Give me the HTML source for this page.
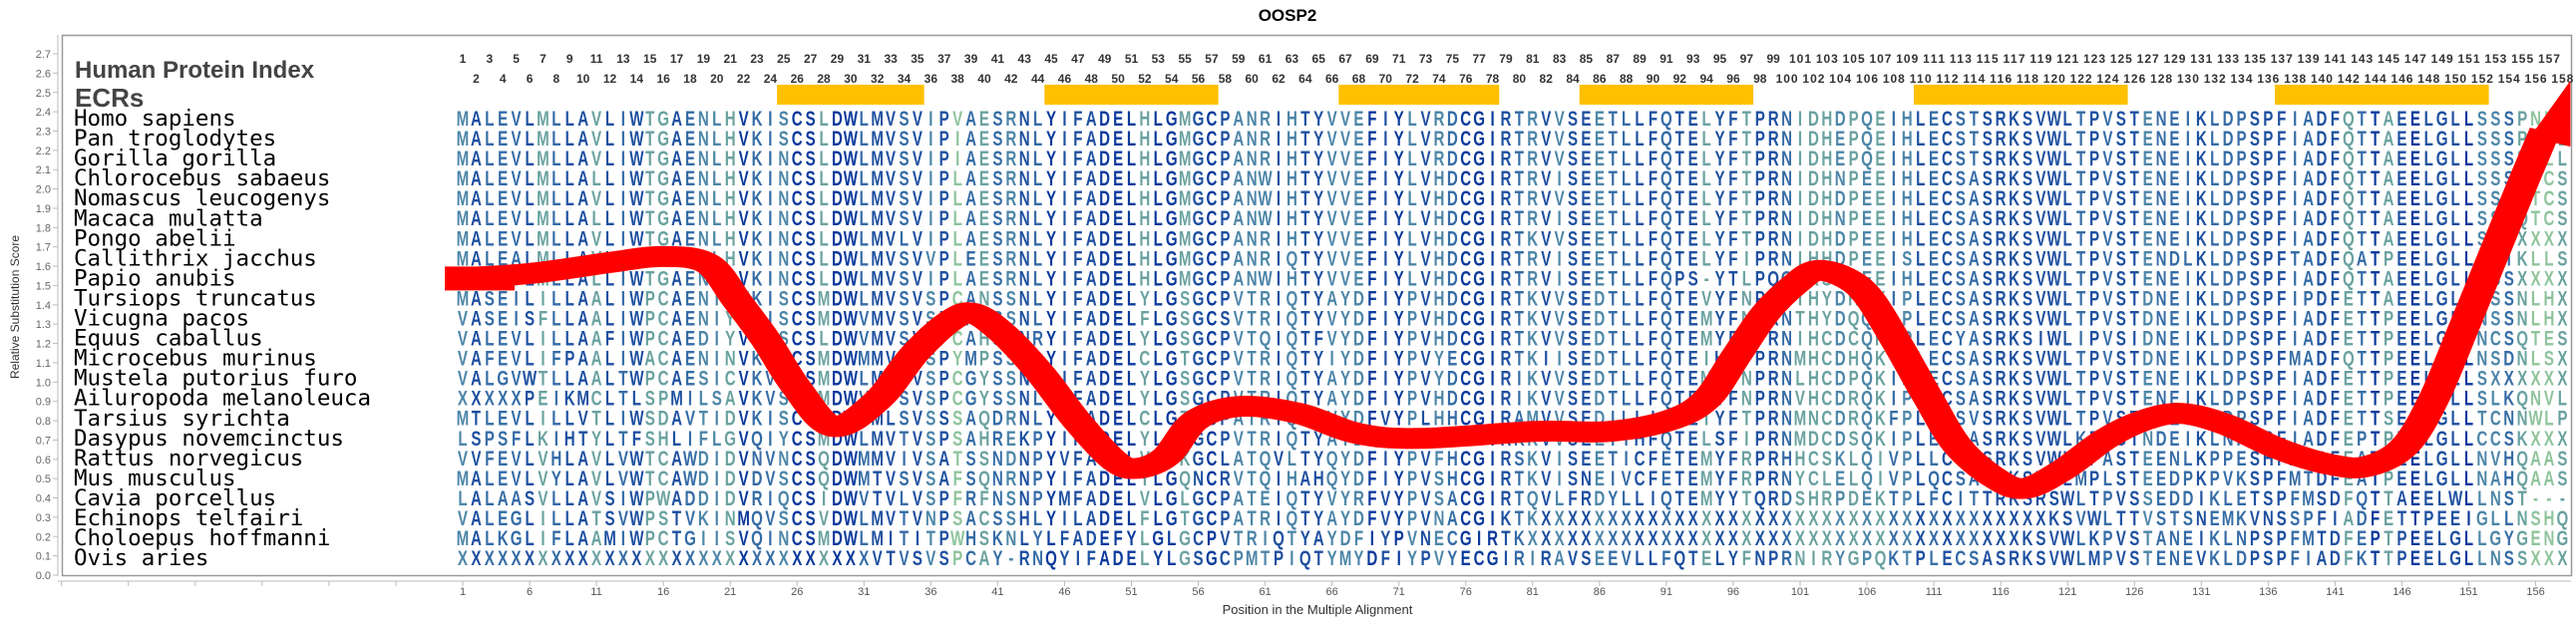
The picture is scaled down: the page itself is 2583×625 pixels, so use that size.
<!DOCTYPE html>
<html><head><meta charset="utf-8"><style>
html,body{margin:0;padding:0;background:#fff;}
svg{display:block;}
</style></head><body>
<svg id="s" xmlns="http://www.w3.org/2000/svg" width="2583" height="625" viewBox="0 0 2583 625">
<rect x="0" y="0" width="2583" height="625" fill="#fff"/>
<text x="1291" y="21" text-anchor="middle" font-family="Liberation Sans, sans-serif" font-weight="bold" font-size="17" fill="#000">OOSP2</text>
<rect x="62.5" y="35.5" width="2516" height="542" fill="none" stroke="#999" stroke-width="1.5"/>
<line x1="58" y1="35" x2="58" y2="578" stroke="#bbb" stroke-width="1"/>
<line x1="58" y1="583" x2="2578" y2="583" stroke="#bbb" stroke-width="1"/>
<text transform="translate(19,308) rotate(-90)" text-anchor="middle" font-family="Liberation Sans, sans-serif" font-size="12" fill="#333">Relative Substitution Score</text>
<text x="1321" y="616" text-anchor="middle" font-family="Liberation Sans, sans-serif" font-size="13" fill="#333">Position in the Multiple Alignment</text>
<text x="75" y="78" font-family="Liberation Sans, sans-serif" font-weight="bold" font-size="24" fill="#444">Human Protein Index</text>
<text x="75" y="107" font-family="Liberation Sans, sans-serif" font-weight="bold" font-size="26" fill="#444">ECRs</text>
<g id="g"></g>
</svg>
<script>
(function(){
var NS="http://www.w3.org/2000/svg",g=document.getElementById("g");
function el(t,a,txt){var e=document.createElementNS(NS,t);for(var k in a)e.setAttribute(k,a[k]);if(txt!=null)e.textContent=txt;g.appendChild(e);return e;}
var X0=464,DX=13.41;function cx(c){return X0+(c-1)*DX;}
function ry(r){return 119+r*20.05;}
for(var i=0;i<=27;i++){var y=577-i*19.37;
 el("text",{x:51,y:y+4,"text-anchor":"end","font-family":"Liberation Sans, sans-serif","font-size":"11",fill:"#666"},(i/10).toFixed(1));
 el("line",{x1:53,y1:y,x2:58,y2:y,stroke:"#bbb"});}
for(var k=-6;k<=31;k++){var x=cx(1)+k*5*DX;if(x<60||x>2578)continue;
 el("line",{x1:x,y1:583,x2:x,y2:588,stroke:"#bbb"});
 if(k>=0) el("text",{x:x,y:597,"text-anchor":"middle","font-family":"Liberation Sans, sans-serif","font-size":"11",fill:"#555"},String(1+k*5));}
[[25,35],[45,57],[67,78],[85,97],[110,125],[137,152]].forEach(function(b){
 el("rect",{x:cx(b[0])-DX/2,y:85,width:(b[1]-b[0]+1)*DX,height:20,fill:"#FFC000"});});
for(var c=1;c<=158;c++){var odd=c%2==1;
 var t=el("text",{x:cx(c),y:odd?63:83,"text-anchor":"middle","font-family":"Liberation Sans, sans-serif","font-weight":"bold","font-size":"12",fill:"#333"},String(c));
 if(c>=100)t.setAttribute("textLength","22");}
var names=["Homo sapiens","Pan troglodytes","Gorilla gorilla","Chlorocebus sabaeus","Nomascus leucogenys","Macaca mulatta","Pongo abelii","Callithrix jacchus","Papio anubis","Tursiops truncatus","Vicugna pacos","Equus caballus","Microcebus murinus","Mustela putorius furo","Ailuropoda melanoleuca","Tarsius syrichta","Dasypus novemcinctus","Rattus norvegicus","Mus musculus","Cavia porcellus","Echinops telfairi","Choloepus hoffmanni","Ovis aries"];
var seqs=[
"MALEVLMLLAVLIWTGAENLHVKISCSLDWLMVSVIPVAESRNLYIFADELHLGMGCPANRIHTYVVEFIYLVRDCGIRTRVVSEETLLFQTELYFTPRNIDHDPQEIHLECSTSRKSVWLTPVSTENEIKLDPSPFIADFQTTAEELGLLSSSPNLL",
"MALEVLMLLAVLIWTGAENLHVKISCSLDWLMVSVIPIAESRNLYIFADELHLGMGCPANRIHTYVVEFIYLVRDCGIRTRVVSEETLLFQTELYFTPRNIDHEPQEIHLECSTSRKSVWLTPVSTENEIKLDPSPFIADFQTTAEELGLLSSSPNLL",
"MALEVLMLLAVLIWTGAENLHVKINCSLDWLMVSVIPIAESRNLYIFADELHLGMGCPANRIHTYVVEFIYLVRDCGIRTRVVSEETLLFQTELYFTPRNIDHEPQEIHLECSTSRKSVWLTPVSTENEIKLDPSPFIADFQTTAEELGLLSSSPNLL",
"MALEVLMLLALLIWTGAENLHVKINCSLDWLMVSVIPLAESRNLYIFADELHLGMGCPANWIHTYVVEFIYLVHDCGIRTRVISEETLLFQTELYFTPRNIDHNPEEIHLECSASRKSVWLTPVSTENEIKLDPSPFIADFQTTAEELGLLSSSQTCS",
"MALEVLMLLAVLIWTGAENLHVKINCSLDWLMVSVIPLAESRNLYIFADELHLGMGCPANWIHTYVVEFIYLVHDCGIRTRVVSEETLLFQTELYFTPRNIDHDPEEIHLECSASRKSVWLTPVSTENEIKLDPSPFIADFQTTAEELGLLSSSQTCS",
"MALEVLMLLALLIWTGAENLHVKINCSLDWLMVSVIPLAESRNLYIFADELHLGMGCPANWIHTYVVEFIYLVHDCGIRTRVISEETLLFQTELYFTPRNIDHNPEEIHLECSASRKSVWLTPVSTENEIKLDPSPFIADFQTTAEELGLLSSSQTCS",
"MALEVLMLLAVLIWTGAENLHVKINCSLDWLMVLVIPLAESRNLYIFADELHLGMGCPANRIHTYVVEFIYLVHDCGIRTKVVSEETLLFQTELYFTPRNIDHDPEEIHLECSASRKSVWLTPVSTENEIKLDPSPFIADFQTTAEELGLLSSSXXXX",
"MALEALMLLAVLIWPGAENLHVKINCSLDWLMVSVVPLEESRNLYIFADELHLGMGCPANRIQTYVVEFIYLVHDCGIRTRVISEETLLFQTELYFIPRNIHHDPEEISLECSASRKSVWLTPVSTENDLKLDPSPFTADFQATPEELGLLSSIKLLS",
"MALEVLMLLALLIWTGAENLHVKINCSLDWLMVSVIPLAESRNLYIFADELHLGMGCPANWIHTYVVEFIYLVHDCGIRTRVISEETLLFQPS-YTLPQGYRSHPEEIHLECSASRKSVWLTPVSTENEIKLDPSPFIADFQTTAEELGLLSSSXXXX",
"MASEILILLAALIWPCAENINVKISCSMDWLMVSVSPCANSSNLYIFADELYLGSGCPVTRIQTYAYDFIYPVHDCGIRTKVVSEDTLLFQTEVYFNPRNTHYDHQKIPLECSASRKSVWLTPVSTDNEIKLDPSPFIPDFETTAEELGLLNSSNLHX",
"VASEISFLLAALIWPCAENIYVEISCSMDWVMVSVSPCAYSSNLYIFADELFLGSGCSVTRIQTYVYDFIYPVHDCGIRTKVVSEDTLLFQTEMYFNPRNTHYDQQKIPLECSASRKSVWLTPVSTDNEIKLDPSPFIADFETTPEELGLLNSSNLHX",
"VALEVLILLAAFIWPCAEDIYVQISCSLDWVMVSVSPCAHSSNRYIFADELYLGSGCPVTQIQTFVYDFIYPVHDCGIRTKVVSEDTLLFQTEMYFKPRNIHCDCQKIPLECYASRKSIWLIPVSIDNEIKLDPSPFIADFETTPEELGLLNCSQTES",
"VAFEVLIFPAALIWACAENINVKISCSMDWMMVSISPYMPSSNLYIFADELCLGTGCPVTRIQTYIYDFIYPVYECGIRTKIISEDTLLFQTEIHFTPRNMHCDHQKIPLECSASRKSVWLTPVSTDNEIKLDPSPFMADFQTTPEELGLLNSDNLSX",
"VALGVWTLLAALTWPCAESICVKVSCSMDWLMISVSPCGYSSNLYIFADELYLGSGCPVTRIQTYAYDFIYPVYDCGIRIKVVSEDTLLFQTEMYFNPRNLHCDPQKIPLECSASRKSVWLTPVSTENEIKLDPSPFIADFETTPEELGLLSXXXXX",
"XXXXXPEIKMCLTLSPMILSAVKVSCSMDWVMISVSPCGYSSNLYIFADELYLGSGCPVTRIQTYAYDFIYPVHDCGIRIKVVSEDTLLFQTEMYFNPRNVHCDRQKIPLECSASRKSVWLTPVSTENEIKLDPSPFIADFETTPEELGLLSLKQNVL",
"MTLEVLILLVTLIWSDAVTIDVKISCSMDWVMLSVSSSAQDRNLYIFADELCLGTDCPATRIQADVYDFVYPLHHCGIRAMVVSEDILLIETEIYFTPRNMNCDRQKFPLECSVSRKSVWLTPVSTDDEIKFDPSPFIADFETTSEELGLLTCNNWLP",
"LSPSFLKIHTYLTFSHLIFLGVQIYCSMDWLMVTVSPSAHREKPYIFHDELYLGLGCPVTRIQTYAYDFIYPVTECGIRKKVVSEETIHFQTELSFIPRNMDCDSQKIPLECSASRKSVWLKPVSTNDEIKLNPSPFIADFEPTPEELGLLCCSKXXX",
"VVFEVLVHLAVLVWTCAWDIDVNVNCSQDWMMVIVSATSSNDNPYVFADELVLGKGCLATQVLTYQYDFIYPVFHCGIRSKVISEETICFETEMYFRPRHHCSKLQIVPLLCCSSRKSVWLLPASTEENLKPPESHFMTDFEATPEELGLLNVHQAAS",
"MALEVLVYLAVLVWTCAWDIDVDVSCSQDWMTVSVSAFSQNRNPYIFADELYLGQNCRVTQIHAHQYDFIYPVSHCGIRTKVISNEIVCFETEMYFRPRNYCLELQIVPLQCSASRKSVWLMPLSTEEDPKPVKSPFMTDFEATPEELGLLNAHQAAS",
"LALAASVLLAVSIWPWADDIDVRIQCSIDWVTVLVSPFRFNSNPYMFADELVLGLGCPATEIQTYVYRFVYPVSACGIRTQVLFRDYLLIQTEMYYTQRDSHRPDEKTPLFCITTRKSRSWLTPVSSEDDIKLETSPFMSDFQTTAEELWLLNST---",
"VALEGLILLATSVWPSTVKINMQVSCSVDWLMVTVNPSACSSHLYILADELFLGTGCPATRIQTYAYDFVYPVNACGIKTKXXXXXXXXXXXXXXXXXXXXXXXXXXXXXXXXXXXXXXKSVWLTTVSTSNEMKVNSSPFIADFETTPEEIGLLNSHQIGS",
"MALKGLIFLAAMIWPCTGIISVQINCSMDWLMITITPWHSKNLYLFADEFYLGLGCPVTRIQTYAYDFIYPVNECGIRTKXXXXXXXXXXXXXXXXXXXXXXXXXXXXXXXXXXXXXKSVWLKPVSTANEIKLNPSPFMTDFEPTPEELGLLGYGENGF",
"XXXXXXXXXXXXXXXXXXXXXXXXXXXXXXXVTVSVSPCAY-RNQYIFADELYLGSGCPMTPIQTYMYDFIYPVYECGIRIRAVSEEVLLFQTELYFNPRNIRYGPQKTPLECSASRKSVWLMPVSTENEVKLDPSPFIADFKTTPEELGLLNSSXXXX"];
var N=158;
for(var r=0;r<seqs.length;r++){var s=seqs[r];while(s.length<N)s+=s.charAt(s.length-1);seqs[r]=s.substring(0,N);}
var cols=[];
for(var c=0;c<N;c++){var cnt={},mx=0;for(var r=0;r<seqs.length;r++){var ch=seqs[r][c];cnt[ch]=(cnt[ch]||0)+1;if(cnt[ch]>mx)mx=cnt[ch];}
 var f=mx/seqs.length;cols.push(f>0.9?"#0b3a9c":f>0.75?"#1e50a0":f>0.6?"#356ca6":f>0.45?"#4d86a8":f>0.3?"#6aa2a0":"#8fc49c");}
var SC=0.72;
for(var r=0;r<names.length;r++){var y=126+r*20.05;
 el("text",{x:74,y:y,"font-family":"DejaVu Sans Mono, Liberation Mono, monospace","font-size":"22.5",fill:"#000"},names[r]);
 var grp=document.createElementNS(NS,"g");grp.setAttribute("transform","scale("+SC+",1)");g.appendChild(grp);
 for(var c=0;c<N;c++){var t=document.createElementNS(NS,"text");
  t.setAttribute("x",(cx(c+1)/SC).toFixed(1));t.setAttribute("y",y);t.setAttribute("text-anchor","middle");
  t.setAttribute("font-family","Liberation Sans, sans-serif");t.setAttribute("font-weight","bold");t.setAttribute("font-size","21");
  t.setAttribute("fill",cols[c]);t.textContent=seqs[r][c];grp.appendChild(t);}
}
var P=[[0,8],[6,7.75],[12,7.2],[15.9,6.9],[19.3,7.25],[21.5,9.1],[23.7,11.1],[25.9,13.4],[28.7,15.4],[32,14.1],[34.8,11.75],[37.5,10.1],[39.2,9.75],[41.4,10.75],[44.2,12.75],[46.9,15.1],[49.7,17.1],[51.4,17.5],[53.6,16.9],[55.8,15.1],[59.1,14.4],[63.5,14.75],[67.9,15.75],[72.6,16],[81.2,15.65],[86.7,15.65],[91.2,15.1],[94,14.05],[96.2,11.9],[98.4,9.75],[100.6,8.3],[102.3,7.6],[104.5,8],[106.2,9],[108.4,11.4],[110.6,14],[112.8,16.4],[115.6,18],[117.8,18.5],[120.6,17.6],[123.9,16],[126.7,15.1],[129.5,14.75],[132.8,15.3],[136.7,16.5],[140.6,17.3],[143.4,17.4],[146.2,16.4],[148.4,14],[150.6,10.5],[152.8,6.9],[155,3.3],[156.7,0.6]];
var XS=1.5;
var Q=P.map(function(p){return [cx(p[0])/XS,ry(p[1])];});
var d="M"+Q[0][0]+","+Q[0][1];
for(var i=0;i<Q.length-1;i++){var p0=Q[Math.max(0,i-1)],p1=Q[i],p2=Q[i+1],p3=Q[Math.min(Q.length-1,i+2)];
 d+=" C"+(p1[0]+(p2[0]-p0[0])/6)+","+(p1[1]+(p2[1]-p0[1])/6)+" "+(p2[0]-(p3[0]-p1[0])/6)+","+(p2[1]-(p3[1]-p1[1])/6)+" "+p2[0]+","+p2[1];}
var sv=document.createElementNS(NS,"svg");sv.setAttribute("x",0);sv.setAttribute("y",0);sv.setAttribute("width",2583);sv.setAttribute("height",625);
sv.setAttribute("viewBox","0 0 "+(2583/XS)+" 625");sv.setAttribute("preserveAspectRatio","none");
var pth=document.createElementNS(NS,"path");pth.setAttribute("d",d);pth.setAttribute("fill","none");pth.setAttribute("stroke","#ff0000");
pth.setAttribute("stroke-width","21");pth.setAttribute("stroke-linejoin","round");sv.appendChild(pth);
var blk=document.createElementNS(NS,"rect");blk.setAttribute("x",446/XS);blk.setAttribute("y",ry(8)-12);blk.setAttribute("width",70/XS);blk.setAttribute("height",24);blk.setAttribute("fill","#ff0000");sv.appendChild(blk);
var tip=document.createElementNS(NS,"polygon");
tip.setAttribute("points",[cx(155.6)/XS+","+ry(0.9),cx(158.6)/XS+","+ry(-1.9),cx(158.6)/XS+","+ry(1.4)].join(" "));
tip.setAttribute("fill","#ff0000");sv.appendChild(tip);
g.appendChild(sv);
})();
</script>
</body></html>
